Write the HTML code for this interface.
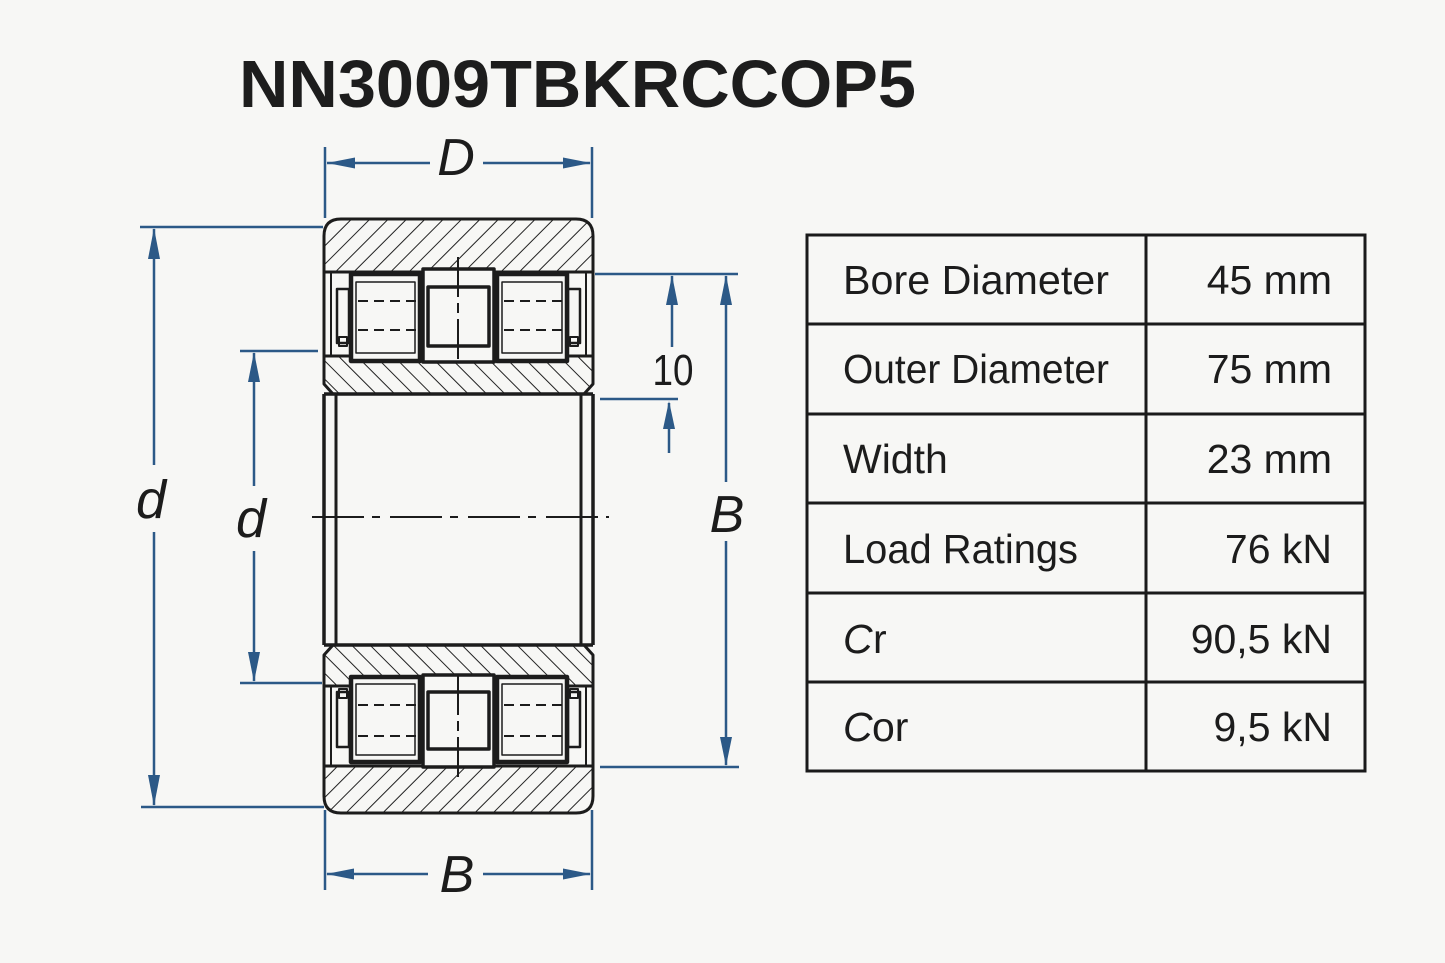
<!DOCTYPE html>
<html><head><meta charset="utf-8"><style>
html,body{margin:0;padding:0;background:#f7f7f5;}
svg{display:block;}
</style></head><body>
<svg width="1445" height="963" viewBox="0 0 1445 963" xmlns="http://www.w3.org/2000/svg">
<defs>
<pattern id="hf" patternUnits="userSpaceOnUse" width="13" height="13" patternTransform="rotate(45)">
<line x1="0" y1="0" x2="0" y2="13" stroke="#222" stroke-width="2"/>
</pattern>
<pattern id="hb" patternUnits="userSpaceOnUse" width="13" height="13" patternTransform="rotate(-45)">
<line x1="0" y1="0" x2="0" y2="13" stroke="#222" stroke-width="2"/>
</pattern>
</defs>
<rect x="0" y="0" width="1445" height="963" fill="#f7f7f5"/>

<!-- Title -->
<text x="239" y="107" font-family="Liberation Sans, Arial, sans-serif" font-weight="bold" font-size="67" fill="#1d1d1d" textLength="677" lengthAdjust="spacingAndGlyphs">NN3009TBKRCCOP5</text>

<!-- ============ BEARING ============ -->
<g stroke="#1c1c1c" fill="none" stroke-linejoin="round">
  <!-- inner ring top -->
  <path d="M324,356 L593,356 L593,384 L584,394 L333,394 L324,384 Z" fill="url(#hb)" stroke-width="3"/>
  <!-- inner ring bottom -->
  <path d="M333,645 L584,645 L593,655 L593,686 L324,686 L324,655 Z" fill="url(#hb)" stroke-width="3"/>
  <!-- outer ring top -->
  <path d="M324,272 L324,236 Q324,219 341,219 L576,219 Q593,219 593,236 L593,272 Z" fill="url(#hf)" stroke-width="3"/>
  <!-- outer ring bottom -->
  <path d="M324,766 L593,766 L593,796 Q593,813 576,813 L341,813 Q324,813 324,796 Z" fill="url(#hf)" stroke-width="3"/>

  <!-- top roller region side lines -->
  <line x1="324" y1="272" x2="324" y2="356" stroke-width="3"/>
  <line x1="593" y1="272" x2="593" y2="356" stroke-width="3"/>
  <line x1="331" y1="272" x2="331" y2="356" stroke-width="2"/>
  <line x1="586" y1="272" x2="586" y2="356" stroke-width="2"/>
  <!-- bottom roller region side lines -->
  <line x1="324" y1="686" x2="324" y2="766" stroke-width="3"/>
  <line x1="593" y1="686" x2="593" y2="766" stroke-width="3"/>
  <line x1="331" y1="686" x2="331" y2="766" stroke-width="2"/>
  <line x1="586" y1="686" x2="586" y2="766" stroke-width="2"/>

  <!-- TOP ROLLERS -->
  <rect x="337" y="289" width="12" height="54" stroke-width="2.5" fill="#f7f7f5"/>
  <rect x="339" y="337" width="8" height="9" stroke-width="2"/>
  <rect x="568" y="289" width="12" height="54" stroke-width="2.5" fill="#f7f7f5"/>
  <rect x="570" y="337" width="8" height="9" stroke-width="2"/>

  <rect x="351" y="274" width="69" height="87" stroke-width="4.5" fill="#f7f7f5"/>
  <rect x="356" y="282" width="59" height="71" stroke-width="1.5"/>
  <rect x="497" y="274" width="70" height="87" stroke-width="4.5" fill="#f7f7f5"/>
  <rect x="502" y="282" width="60" height="71" stroke-width="1.5"/>
  <rect x="423" y="269" width="71" height="93" stroke-width="3.5" fill="#f7f7f5"/>
  <rect x="428" y="287" width="61" height="59" stroke-width="3.5"/>
  <g stroke-width="2" stroke-dasharray="10 6">
    <line x1="358" y1="301" x2="416" y2="301"/>
    <line x1="358" y1="330" x2="416" y2="330"/>
    <line x1="504" y1="301" x2="562" y2="301"/>
    <line x1="504" y1="330" x2="562" y2="330"/>
  </g>

  <!-- BOTTOM ROLLERS -->
  <rect x="337" y="692" width="12" height="55" stroke-width="2.5" fill="#f7f7f5"/>
  <rect x="339" y="689" width="8" height="9" stroke-width="2"/>
  <rect x="568" y="692" width="12" height="55" stroke-width="2.5" fill="#f7f7f5"/>
  <rect x="570" y="689" width="8" height="9" stroke-width="2"/>

  <rect x="351" y="677" width="69" height="85" stroke-width="4.5" fill="#f7f7f5"/>
  <rect x="356" y="684" width="59" height="71" stroke-width="1.5"/>
  <rect x="497" y="677" width="70" height="85" stroke-width="4.5" fill="#f7f7f5"/>
  <rect x="502" y="684" width="60" height="71" stroke-width="1.5"/>
  <rect x="423" y="675" width="71" height="92" stroke-width="3.5" fill="#f7f7f5"/>
  <rect x="428" y="692" width="61" height="57" stroke-width="3.5"/>
  <g stroke-width="2" stroke-dasharray="10 6">
    <line x1="358" y1="705" x2="416" y2="705"/>
    <line x1="358" y1="736" x2="416" y2="736"/>
    <line x1="504" y1="705" x2="562" y2="705"/>
    <line x1="504" y1="736" x2="562" y2="736"/>
  </g>

  <!-- bore -->
  <line x1="324" y1="394" x2="324" y2="645" stroke-width="3.5"/>
  <line x1="593" y1="394" x2="593" y2="645" stroke-width="3.5"/>
  <line x1="336" y1="394" x2="336" y2="645" stroke-width="3"/>
  <line x1="581" y1="394" x2="581" y2="645" stroke-width="3"/>
  <line x1="324" y1="394" x2="593" y2="394" stroke-width="3.5"/>
  <line x1="324" y1="645" x2="593" y2="645" stroke-width="3.5"/>

  <!-- center lines -->
  <line x1="312" y1="517" x2="609" y2="517" stroke-width="2" stroke-dasharray="52 8 8 10"/>
  <line x1="458" y1="257" x2="458" y2="364" stroke-width="2" stroke-dasharray="40 6 10 6"/>
  <line x1="458" y1="675" x2="458" y2="778" stroke-width="2" stroke-dasharray="40 6 10 6"/>
</g>

<!-- ============ DIMENSIONS ============ -->
<g stroke="#2c5987" stroke-width="2.5" fill="none">
  <!-- D top -->
  <line x1="325" y1="147" x2="325" y2="218"/>
  <line x1="592" y1="147" x2="592" y2="218"/>
  <line x1="327" y1="163" x2="430" y2="163"/>
  <line x1="483" y1="163" x2="590" y2="163"/>
  <!-- B bottom -->
  <line x1="325" y1="810" x2="325" y2="890"/>
  <line x1="592" y1="810" x2="592" y2="890"/>
  <line x1="327" y1="874" x2="428" y2="874"/>
  <line x1="483" y1="874" x2="590" y2="874"/>
  <!-- outer d left -->
  <line x1="140" y1="227" x2="323" y2="227"/>
  <line x1="141" y1="807" x2="324" y2="807"/>
  <line x1="154" y1="229" x2="154" y2="465"/>
  <line x1="154" y1="532" x2="154" y2="805"/>
  <!-- inner d -->
  <line x1="240" y1="351" x2="318" y2="351"/>
  <line x1="240" y1="683" x2="322" y2="683"/>
  <line x1="254" y1="353" x2="254" y2="486"/>
  <line x1="254" y1="551" x2="254" y2="681"/>
  <!-- right B -->
  <line x1="595" y1="274" x2="738" y2="274"/>
  <line x1="600" y1="767" x2="739" y2="767"/>
  <line x1="726" y1="276" x2="726" y2="482"/>
  <line x1="726" y1="541" x2="726" y2="765"/>
  <!-- 10 -->
  <line x1="672" y1="276" x2="672" y2="347"/>
  <line x1="600" y1="399" x2="678" y2="399"/>
  <line x1="669" y1="403" x2="669" y2="453"/>
</g>
<g fill="#2c5987" stroke="none">
  <polygon points="327,163 355,157.5 355,168.5"/>
  <polygon points="591,163 563,157.5 563,168.5"/>
  <polygon points="326,874 354,868.5 354,879.5"/>
  <polygon points="591,874 563,868.5 563,879.5"/>
  <polygon points="154,228 148,259 160,259"/>
  <polygon points="154,806 148,775 160,775"/>
  <polygon points="254,352 248,382 260,382"/>
  <polygon points="254,682 248,652 260,652"/>
  <polygon points="726,275 720,305 732,305"/>
  <polygon points="726,766 720,737 732,737"/>
  <polygon points="672,275 666,305 678,305"/>
  <polygon points="669,401 663,429 675,429"/>
</g>

<g font-family="Liberation Sans, Arial, sans-serif" fill="#1c1c1c">
  <text x="456" y="175" font-size="52" font-style="italic" text-anchor="middle">D</text>
  <text x="457" y="892" font-size="52" font-style="italic" text-anchor="middle">B</text>
  <text x="151" y="518" font-size="54" font-style="italic" text-anchor="middle">d</text>
  <text x="251" y="537" font-size="54" font-style="italic" text-anchor="middle">d</text>
  <text x="727" y="532" font-size="52" font-style="italic" text-anchor="middle">B</text>
  <text x="673" y="385" font-size="44" text-anchor="middle" textLength="41" lengthAdjust="spacingAndGlyphs">10</text>
</g>

<!-- ============ TABLE ============ -->
<g stroke="#1a1a1a" stroke-width="3" fill="none">
  <rect x="807" y="235" width="558" height="536"/>
  <line x1="1146" y1="235" x2="1146" y2="771"/>
  <line x1="807" y1="324" x2="1365" y2="324"/>
  <line x1="807" y1="414" x2="1365" y2="414"/>
  <line x1="807" y1="503" x2="1365" y2="503"/>
  <line x1="807" y1="593" x2="1365" y2="593"/>
  <line x1="807" y1="682" x2="1365" y2="682"/>
</g>
<g font-family="Liberation Sans, Arial, sans-serif" font-size="41" fill="#1c1c1c">
  <text x="843" y="294" textLength="266" lengthAdjust="spacingAndGlyphs">Bore Diameter</text>
  <text x="843" y="383" textLength="266" lengthAdjust="spacingAndGlyphs">Outer Diameter</text>
  <text x="843" y="473">Width</text>
  <text x="843" y="563" textLength="235" lengthAdjust="spacingAndGlyphs">Load Ratings</text>
  <text x="843" y="653" font-style="italic">C</text>
  <text x="873" y="653">r</text>
  <text x="843" y="741" font-style="italic">C</text>
  <text x="872" y="741">or</text>
  <g text-anchor="end">
    <text x="1332" y="294">45 mm</text>
    <text x="1332" y="383">75 mm</text>
    <text x="1332" y="473">23 mm</text>
    <text x="1332" y="563">76 kN</text>
    <text x="1332" y="653">90,5 kN</text>
    <text x="1332" y="741">9,5 kN</text>
  </g>
</g>
</svg>
</body></html>
